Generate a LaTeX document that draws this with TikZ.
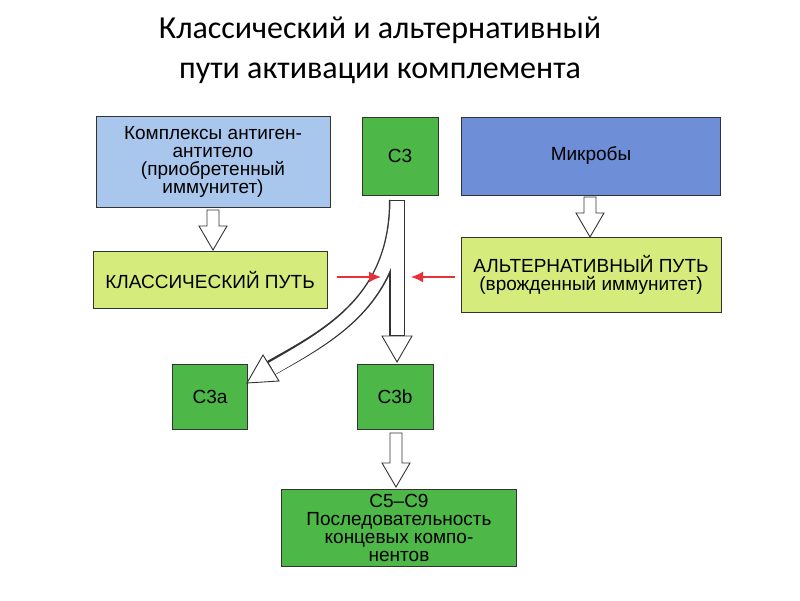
\documentclass[tikz,border=0pt]{standalone}
\usepackage{fontspec}
\usetikzlibrary{arrows.meta}
\setmainfont{Liberation Sans}
\newfontfamily\titlefont{Carlito}
\definecolor{lblue}{HTML}{A9C6EC}
\definecolor{dblue}{HTML}{6E8ED8}
\definecolor{ygreen}{HTML}{D5EC7C}
\definecolor{mgreen}{HTML}{4DB848}
\definecolor{rred}{HTML}{E8303A}
\begin{document}
\begin{tikzpicture}[x=1pt,y=-1pt,
  box/.style={draw=black!80,line width=1pt,align=center,inner sep=0pt,font=\fontsize{19}{18}\selectfont},
  hollowhead/.style={draw=black!80,fill=white,line width=0.9pt,line join=miter},
  redarr/.style={draw=rred,line width=1.6pt,-{Latex[length=12pt,width=11pt]}}]
\useasboundingbox (0,0) rectangle (800,600);
\node[font=\titlefont\fontsize{32}{40}\selectfont,align=center] (title) at (380,50) {Классический и альтернативный\\пути активации комплемента};
\node[box,fill=lblue,minimum width=234pt,minimum height=91pt] (ag) at (213,162) {Комплексы антиген-\\антитело\\(приобретенный\\иммунитет)};
\node[box,fill=mgreen,minimum width=76pt,minimum height=78pt] (c3) at (400,156) {С3};
\node[box,fill=dblue,minimum width=259pt,minimum height=78pt] (mic) at (591,156) {Микробы};
\node[box,fill=ygreen,minimum width=234pt,minimum height=57pt] (cl) at (210,280) {КЛАССИЧЕСКИЙ ПУТЬ};
\node[box,fill=ygreen,minimum width=260pt,minimum height=75pt] (alt) at (591,275) {АЛЬТЕРНАТИВНЫЙ ПУТЬ\\(врожденный иммунитет)};
\node[box,fill=mgreen,minimum width=75pt,minimum height=65pt] (c3a) at (210,397) {С3а};
\node[box,fill=mgreen,minimum width=76pt,minimum height=65pt] (c3b) at (395,397) {С3b};
\node[box,fill=mgreen,minimum width=235pt,minimum height=77pt] (c5) at (399,528) {С5–С9\\Последовательность\\концевых компо-\\нентов};
% simple hollow arrows
\foreach \x/\ya/\yb in {213/210/226, 590/197/213, 396/433/463}{
  \draw[hollowhead] (\x-6,\ya) -- (\x+6,\ya) -- (\x+6,\yb) -- (\x+14,\yb) -- (\x,\yb+24) -- (\x-14,\yb) -- (\x-6,\yb) -- cycle;
}
% central forked arrow
\coordinate (s0) at (397,200);
\coordinate (s1) at (397,336);
\coordinate (b1) at (271,368);
\draw[black!80,line width=16pt] (s0) -- (s1);
\draw[black!80,line width=16pt] (s0) .. controls (397,300) and (330,335) .. (b1);
\draw[white,line width=13pt] ([yshift=1pt]s0) -- ([yshift=1pt]s1);
\draw[white,line width=13pt] ([yshift=1pt]s0) .. controls (397,300) and (330,335) .. ([xshift=1pt,yshift=-0.5pt]b1);
\draw[hollowhead] (382,336) -- (412,336) -- (397,362) -- cycle;
\draw[hollowhead] (279,381) -- (263,355) -- (247,383) -- cycle;
\draw[black!80,line width=1pt] (389,200) -- (405,200);
% red arrows
\coordinate (r1s) at (337,277);
\coordinate (r1) at (381,277);
\coordinate (r2s) at (455,277);
\coordinate (r2) at (411,277);
\draw[redarr] (r1s) -- (r1);
\draw[redarr] (r2s) -- (r2);
\end{tikzpicture}
\end{document}
